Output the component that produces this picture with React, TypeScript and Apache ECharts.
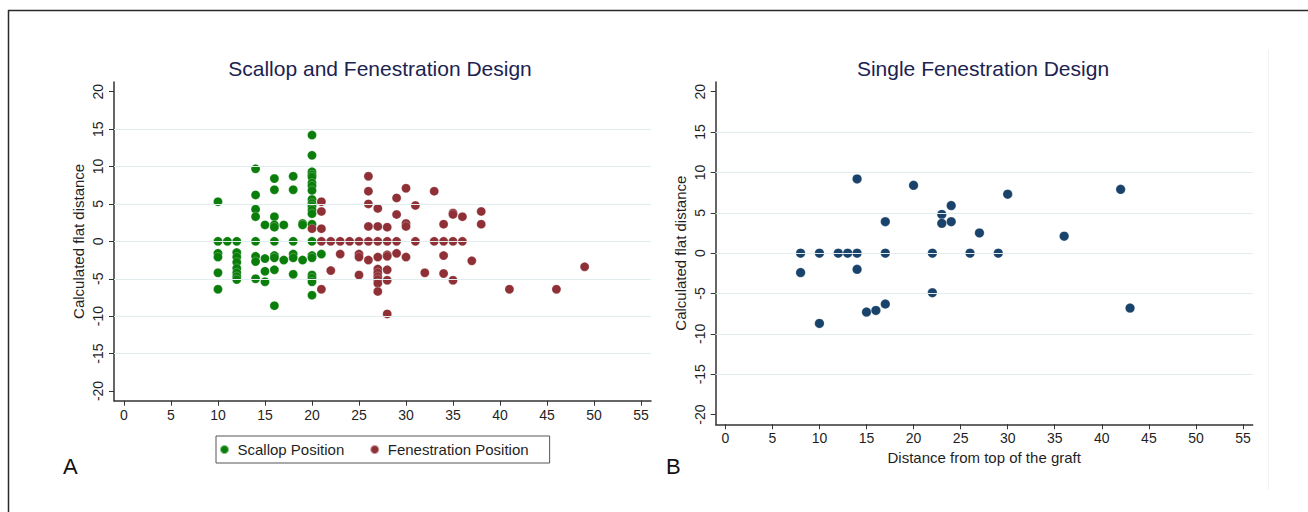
import React, { useEffect, useRef } from "react";
import * as echarts from "echarts";

const FONT = '"Liberation Sans", Arial, Helvetica, sans-serif';

// Panel A: Scallop and Fenestration Design  [distance from top, calculated flat distance]
const scallopPoints: number[][] = [
  [10, 5.3], [10, 0], [10, -1.6], [10, -2.1], [10, -4.2], [10, -6.4],
  [11, 0],
  [12, 0], [12, -1.5], [12, -2.1], [12, -2.8], [12, -3.6], [12, -4.2], [12, -4.7], [12, -5.1],
  [14, 9.7], [14, 6.2], [14, 4.3], [14, 3.3], [14, 0], [14, -2.0], [14, -2.7], [14, -5.0],
  [15, 2.2], [15, -2.3], [15, -4.0], [15, -5.4],
  [16, 8.4], [16, 6.9], [16, 3.3], [16, 2.2], [16, 1.9], [16, 0], [16, -1.9], [16, -2.2], [16, -3.8], [16, -8.6],
  [17, 2.2], [17, -2.5],
  [18, 8.7], [18, 6.9], [18, 0], [18, -1.7], [18, -2.2], [18, -4.4],
  [19, 2.4], [19, 2.2], [19, -2.5],
  [20, 14.2], [20, 11.5], [20, 9.3], [20, 8.9], [20, 8.6], [20, 7.8], [20, 7.4], [20, 6.8],
  [20, 5.6], [20, 5.1], [20, 4.7], [20, 4.2], [20, 3.7], [20, 2.3], [20, 0], [20, -1.9], [20, -2.2],
  [20, -4.5], [20, -4.9], [20, -5.4], [20, -7.2],
  [21, -1.7],
];

const fenestrationPoints: number[][] = [
  [20, 1.7],
  [21, 5.3], [21, 4.0], [21, 1.7], [21, 0], [21, -6.4],
  [22, 0], [22, -3.9],
  [23, 0], [23, -1.7],
  [24, 0],
  [25, 0], [25, -1.7], [25, -2.1], [25, -4.5],
  [26, 8.7], [26, 6.7], [26, 5.0], [26, 2.0], [26, 0], [26, -2.5],
  [27, 4.4], [27, 2.0], [27, 0], [27, -2.1], [27, -3.7], [27, -4.2], [27, -4.7], [27, -5.1], [27, -5.6], [27, -6.7],
  [28, 1.9], [28, 0], [28, -1.8], [28, -2.0], [28, -3.8], [28, -5.2], [28, -9.7],
  [29, 5.8], [29, 3.6], [29, 0], [29, -1.6],
  [30, 7.1], [30, 2.4], [30, 2.0], [30, -2.1],
  [31, 4.8], [31, 0],
  [32, -4.2],
  [33, 6.7], [33, 0],
  [34, 2.3], [34, 0], [34, -1.9], [34, -4.3],
  [35, 3.8], [35, 3.6], [35, 0], [35, -5.2],
  [36, 3.3], [36, 0],
  [37, -2.6],
  [38, 4.0], [38, 2.3],
  [41, -6.4], [46, -6.4], [49, -3.4],
];

// Panel B: Single Fenestration Design
const singlePoints: number[][] = [
  [8, 0], [8, -2.4], [10, 0], [10, -8.7], [12, 0], [13, 0], [14, 9.2], [14, 0], [14, -2.0],
  [15, -7.3], [16, -7.1], [17, 3.9], [17, 0], [17, -6.3], [20, 8.4], [22, 0], [22, -4.9],
  [23, 4.8], [23, 3.7], [24, 5.9], [24, 3.9], [26, 0], [27, 2.5], [29, 0], [30, 7.3],
  [36, 2.1], [42, 7.9], [43, -6.8],
];

const xTicks = [0, 5, 10, 15, 20, 25, 30, 35, 40, 45, 50, 55];
const yTicks = [-20, -15, -10, -5, 0, 5, 10, 15, 20];
const gridValues = [-15, -10, -5, 0, 5, 10, 15];

const seriesNames = ["Scallop Position", "Fenestration Position", "Single Fenestration"];
const colors = ["#0a7d0a", "#8e3036", "#1a436b"];

const AXIS_COLOR = "#333";
const LABEL_COLOR = "#1f1f1f";

function makeX(gridIndex: number, min: number, max: number, name?: string) {
  return {
    type: "value",
    gridIndex,
    min,
    max,
    name: name || "",
    nameLocation: "middle",
    nameGap: 26,
    nameTextStyle: { fontSize: 15, color: LABEL_COLOR, fontFamily: FONT },
    axisLine: { show: true, onZero: false, lineStyle: { color: AXIS_COLOR, width: 1.5 } },
    axisTick: { show: true, customValues: xTicks, length: 5, lineStyle: { color: AXIS_COLOR, width: 1 } },
    axisLabel: { customValues: xTicks, fontSize: 14, color: LABEL_COLOR, margin: 7, fontFamily: FONT },
    splitLine: { show: false },
  };
}

function makeY(gridIndex: number, min: number, max: number) {
  return {
    type: "value",
    gridIndex,
    min,
    max,
    name: "Calculated flat distance",
    nameLocation: "middle",
    nameGap: 28,
    nameRotate: 90,
    nameTextStyle: { fontSize: 15, color: LABEL_COLOR, fontFamily: FONT },
    axisLine: { show: true, onZero: false, lineStyle: { color: AXIS_COLOR, width: 1.5 } },
    axisTick: { show: true, customValues: yTicks, length: 5, lineStyle: { color: AXIS_COLOR, width: 1 } },
    axisLabel: { customValues: yTicks, fontSize: 14, color: LABEL_COLOR, margin: 9, rotate: 90, fontFamily: FONT },
    splitLine: { show: false },
  };
}

function gridSeries(idx: number) {
  return {
    type: "scatter",
    xAxisIndex: idx,
    yAxisIndex: idx,
    data: [],
    silent: true,
    z: 1,
    markLine: {
      silent: true,
      symbol: ["none", "none"],
      label: { show: false },
      emphasis: { disabled: true },
      lineStyle: { color: "#e2edf0", width: 1.2, type: "solid" },
      data: gridValues.map((v) => ({ yAxis: v })),
    },
  };
}

export default function App() {
  const ref = useRef<HTMLDivElement>(null);

  useEffect(() => {
    if (!ref.current) return;
    const chart = echarts.init(ref.current, undefined, { renderer: "svg" });
    const option: any = {
      animation: false,
      backgroundColor: "#ffffff",
      textStyle: { fontFamily: FONT },
      grid: [
        { left: 114, top: 82, width: 537, height: 318.7 },
        { left: 715.7, top: 82, width: 537, height: 342.3 },
      ],
      xAxis: [makeX(0, -1.06, 56.06), makeX(1, -1.02, 56.03, "Distance from top of the graft")],
      yAxis: [makeY(0, -21.3, 21.3), makeY(1, -21.2, 21.2)],
      legend: {
        data: [seriesNames[0], seriesNames[1]],
        left: 216,
        top: 436,
        orient: "horizontal",
        icon: "circle",
        itemWidth: 16,
        itemHeight: 9,
        itemGap: 25,
        padding: [6, 21, 6, 3],
        borderColor: "#555",
        borderWidth: 1,
        selectedMode: false,
        textStyle: { fontSize: 15, color: LABEL_COLOR, fontFamily: FONT },
      },
      series: [
        gridSeries(0),
        gridSeries(1),
        {
          name: seriesNames[0],
          type: "scatter",
          xAxisIndex: 0,
          yAxisIndex: 0,
          symbolSize: 9,
          z: 3,
          itemStyle: { color: colors[0], borderColor: "rgba(255,255,255,0.5)", borderWidth: 0.5, opacity: 1 },
          data: scallopPoints,
        },
        {
          name: seriesNames[1],
          type: "scatter",
          xAxisIndex: 0,
          yAxisIndex: 0,
          symbolSize: 9,
          z: 3,
          itemStyle: { color: colors[1], borderColor: "rgba(255,255,255,0.5)", borderWidth: 0.5, opacity: 1 },
          data: fenestrationPoints,
        },
        {
          name: seriesNames[2],
          type: "scatter",
          xAxisIndex: 1,
          yAxisIndex: 1,
          symbolSize: 9.5,
          z: 3,
          itemStyle: { color: colors[2], borderColor: "rgba(255,255,255,0.5)", borderWidth: 0.5, opacity: 1 },
          data: singlePoints,
        },
      ],
      graphic: [
        { type: "line", shape: { x1: 8, y1: 10.5, x2: 1308, y2: 10.5 }, style: { stroke: "#2a2a2a", lineWidth: 1.5 }, silent: true },
        { type: "line", shape: { x1: 8.5, y1: 10, x2: 8.5, y2: 512 }, style: { stroke: "#2a2a2a", lineWidth: 1.5 }, silent: true },
        { type: "line", shape: { x1: 1268.5, y1: 50, x2: 1268.5, y2: 490 }, style: { stroke: "#eef4f6", lineWidth: 1 }, silent: true },
        {
          type: "text", x: 380, y: 68,
          style: { text: "Scallop and Fenestration Design", fill: "#1c2350", fontSize: 21, fontFamily: FONT, textAlign: "center", textVerticalAlign: "middle" },
        },
        {
          type: "text", x: 983, y: 68,
          style: { text: "Single Fenestration Design", fill: "#1c2350", fontSize: 21, fontFamily: FONT, textAlign: "center", textVerticalAlign: "middle" },
        },
        {
          type: "text", x: 63, y: 466,
          style: { text: "A", fill: "#111", fontSize: 22, fontFamily: FONT, textAlign: "left", textVerticalAlign: "middle" },
        },
        {
          type: "text", x: 666, y: 466,
          style: { text: "B", fill: "#111", fontSize: 22, fontFamily: FONT, textAlign: "left", textVerticalAlign: "middle" },
        },
      ],
    };
    chart.setOption(option);
    return () => chart.dispose();
  }, []);

  return <div ref={ref} style={{ position: "fixed", left: 0, top: 0, width: 1308, height: 512 }} />;
}
